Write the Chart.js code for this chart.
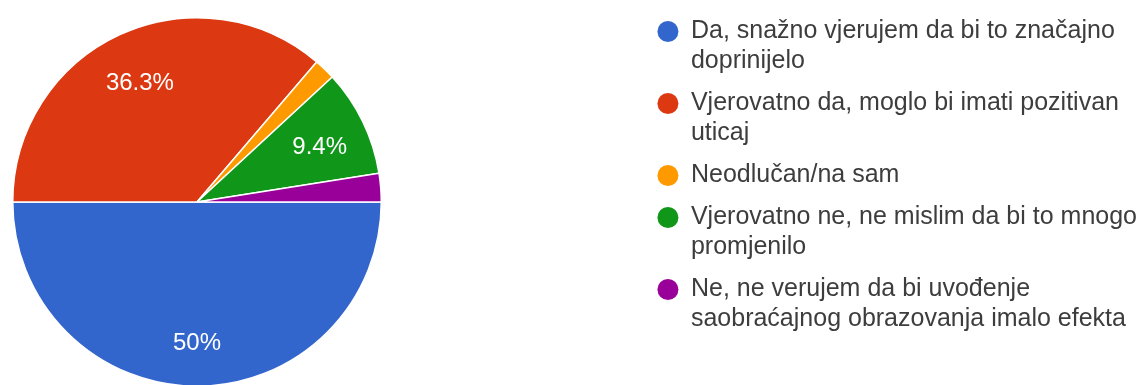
<!DOCTYPE html>
<html>
<head>
<meta charset="utf-8">
<script src="https://cdn.jsdelivr.net/npm/chart.js@4/dist/chart.umd.min.js"></script>
<style>
  html, body { margin: 0; padding: 0; background: #fff; }
  #wrap { width: 1138px; height: 385px; }
</style>
</head>
<body>
<div id="wrap"><canvas id="pie" width="1138" height="385"></canvas></div>
<script>
// answer options (legend lines are wrapped like in the form summary)
const answers = [
  ['Da, snažno vjerujem da bi to značajno', 'doprinijelo'],
  ['Vjerovatno da, moglo bi imati pozitivan', 'uticaj'],
  ['Neodlučan/na sam'],
  ['Vjerovatno ne, ne mislim da bi to mnogo', 'promjenilo'],
  ['Ne, ne verujem da bi uvođenje', 'saobraćajnog obrazovanja imalo efekta']
];
// number of responses per answer (160 total)
const votes = [80, 58, 3, 15, 4];
const sliceColors = ['#3366cc', '#dc3912', '#ff9900', '#109618', '#990099'];

// keep the pie on the left side, legend stays where the layout put it
const pieFrame = {
  id: 'pieFrame',
  afterLayout(chart) {
    const a = chart.chartArea;
    const cx = 197, cy = 202, r = 185;
    a.left = cx - r;
    a.right = cx + r;
    a.top = cy - r;
    a.bottom = cy + r;
    a.width = 2 * r;
    a.height = 2 * r;
  }
};

// percentage text inside the bigger slices
const pctLabels = {
  id: 'pctLabels',
  afterDatasetsDraw(chart) {
    const meta = chart.getDatasetMeta(0);
    const total = votes.reduce((a, b) => a + b, 0);
    const ctx = chart.ctx;
    ctx.save();
    ctx.font = '24px "Liberation Sans", Arial, sans-serif';
    ctx.fillStyle = '#ffffff';
    ctx.textAlign = 'center';
    ctx.textBaseline = 'middle';
    meta.data.forEach(function (arc, i) {
      const share = votes[i] / total;
      if (share < 0.05) return;
      const p = arc.getProps(['x', 'y', 'startAngle', 'endAngle', 'outerRadius'], true);
      const mid = (p.startAngle + p.endAngle) / 2;
      const r = p.outerRadius * 0.74;
      const text = (Math.round(share * 1000) / 10) + '%';
      ctx.fillText(text, p.x + Math.cos(mid) * r, p.y + Math.sin(mid) * r + 5);
    });
    ctx.restore();
  }
};

Chart.defaults.font.family = '"Liberation Sans", Arial, sans-serif';

new Chart(document.getElementById('pie'), {
  type: 'pie',
  data: {
    labels: answers,
    datasets: [{
      data: votes,
      backgroundColor: sliceColors,
      borderColor: '#ffffff',
      borderWidth: 1.5,
      hoverOffset: 0
    }]
  },
  options: {
    responsive: false,
    devicePixelRatio: 1,
    animation: false,
    rotation: 90,
    layout: {
      padding: { top: 7, bottom: 0, left: 0, right: -9 }
    },
    plugins: {
      tooltip: { enabled: false },
      legend: {
        position: 'right',
        align: 'start',
        labels: {
          color: '#3d3d3d',
          font: { size: 25 },
          padding: 12,
          usePointStyle: true,
          pointStyle: 'circle',
          boxHeight: 14.85,
          pointStyleWidth: 21,
          generateLabels: function (chart) {
            const items = Chart.overrides.pie.plugins.legend.labels.generateLabels(chart);
            items.forEach(function (it) {
              it.lineWidth = 0;
              it.strokeStyle = it.fillStyle;
            });
            return items;
          }
        }
      }
    }
  },
  plugins: [pieFrame, pctLabels]
});
</script>
</body>
</html>
